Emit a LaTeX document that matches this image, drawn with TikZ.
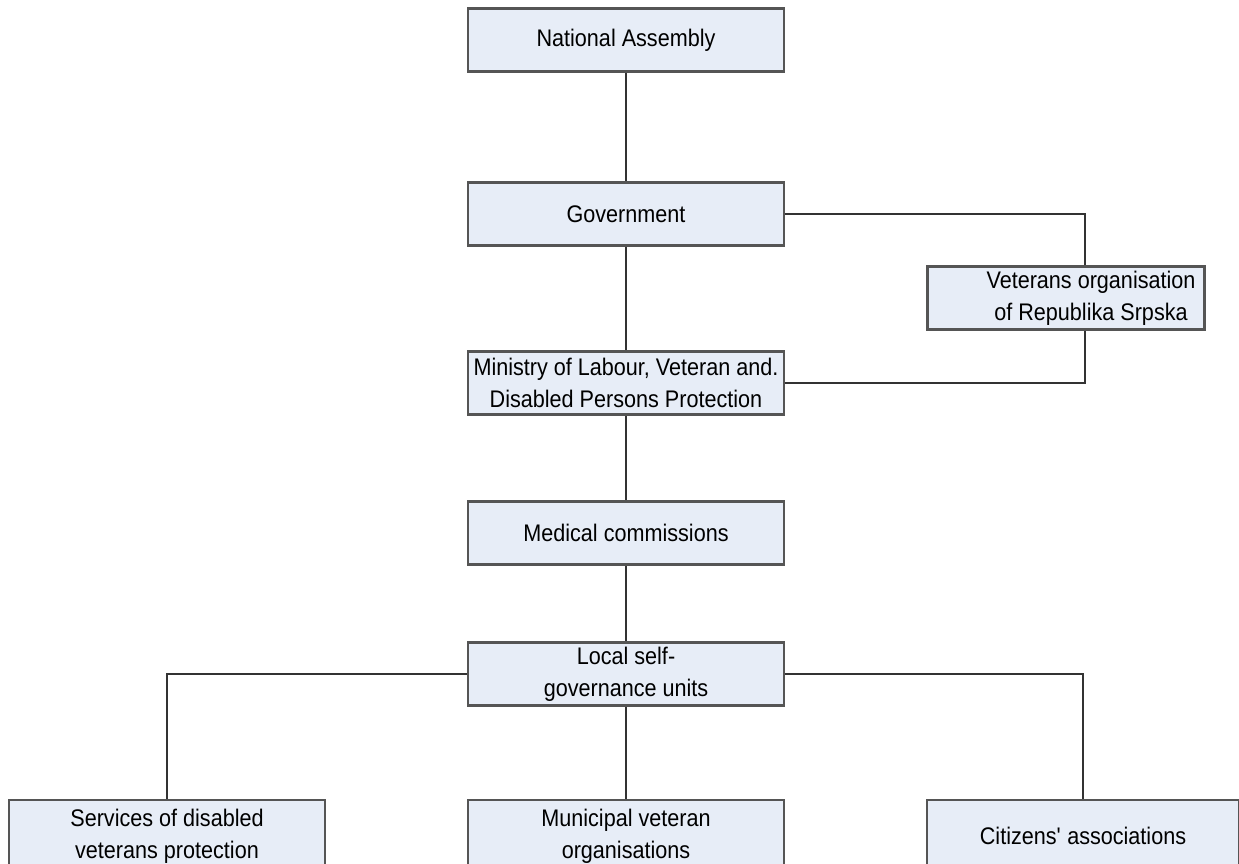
\documentclass[tikz,border=0pt]{standalone}
\usepackage{fontspec}
\setmainfont[FakeStretch=0.9]{Liberation Sans}
\usetikzlibrary{positioning}

\definecolor{boxfill}{HTML}{E7EDF7}
\definecolor{boxline}{HTML}{555555}
\definecolor{linkline}{HTML}{333333}

\newcommand\orgbox[5]{
		\node (#1) at (#2,#3) [orgnode,minimum width=#4pt] {#5};
	}

\begin{document}
\begin{tikzpicture}[x=1pt,y=-1pt,
	orgnode/.style={draw=boxline,fill=boxfill,line width=2.2pt,rectangle,minimum height=63pt,align=center,inner sep=2pt,font=\fontsize{24}{32}\selectfont},
	link/.style={draw=linkline,line width=2pt}]
		\useasboundingbox (0,0) rectangle (1239,863);

		% draw main column
		\orgbox{na}{626}{40}{316}{National Assembly}
		\orgbox{gov}{626}{214}{316}{Government}
		\orgbox{min}{626}{383}{316}{Ministry of Labour, Veteran and.\\Disabled Persons Protection}
		\orgbox{med}{626}{533}{316}{Medical commissions}
		\orgbox{loc}{626}{674}{316}{Local self-\\governance units}

		% draw veterans organisation
		\orgbox{vet}{1066}{298}{277}{\hspace*{50pt}Veterans organisation\\\hspace*{50pt}of Republika Srpska}

		% draw column links
		\draw[link] (na.south) to (gov.north);
		\draw[link] (gov.south) to (min.north);
		\draw[link] (min.south) to (med.north);
		\draw[link] (med.south) to (loc.north);

		% draw veterans links
		\draw[link] (gov.east) -| ([xshift=19pt]vet.north);
		\draw[link] ([xshift=19pt]vet.south) |- (min.east);

		% draw bottom boxes
		\foreach \n/\x/\w/\a/\t in {srv/167/316/west/{Services of disabled\\veterans protection},mun/626/316/south/{Municipal veteran\\organisations},cit/1083/312/east/{Citizens\textquotesingle{} associations}}
		{
			\node (\n) at (\x,836) [orgnode,minimum width=\w pt,minimum height=72pt] {\t};
			\draw[link] (loc.\a) -| (\n.north);
		}
	\end{tikzpicture}
\end{document}
